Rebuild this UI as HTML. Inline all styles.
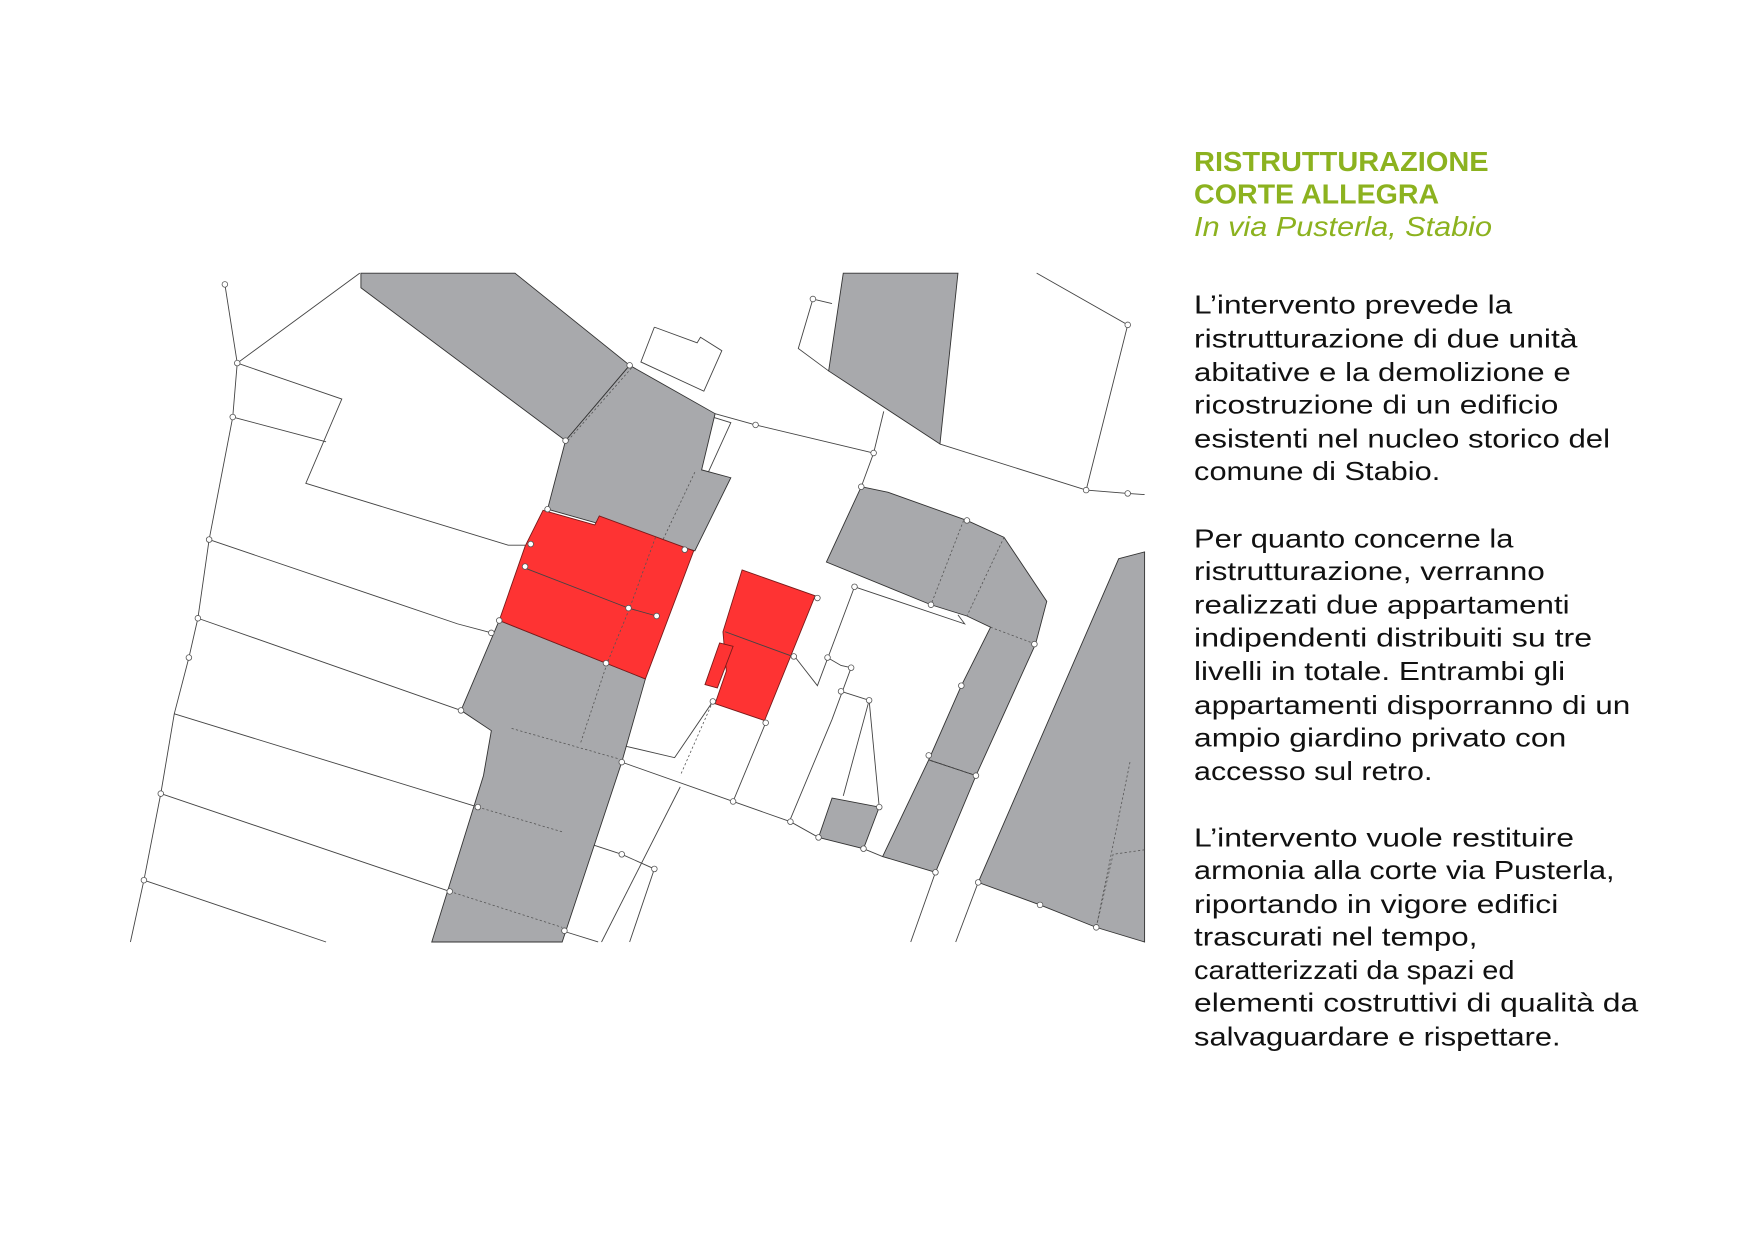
<!DOCTYPE html>
<html><head><meta charset="utf-8"><style>
html,body{margin:0;padding:0;background:#fff;}
svg{display:block;}
.t{font-family:"Liberation Sans",sans-serif;font-size:23px;fill:#111;}
.g{font-family:"Liberation Sans",sans-serif;font-size:25px;fill:#8cb21f;font-weight:bold;}
.gi{font-family:"Liberation Sans",sans-serif;font-size:25px;fill:#8cb21f;font-style:italic;}
.b{fill:#a8a9ac;stroke:#333;stroke-width:0.8;}
.r{fill:#fe3333;stroke:#7a1a1a;stroke-width:0.8;}
.l{fill:none;stroke:#444;stroke-width:0.8;}
.d{fill:none;stroke:#555;stroke-width:0.7;stroke-dasharray:2 2;}
.n{fill:#fff;stroke:#555;stroke-width:0.7;}
</style></head><body>
<svg width="1754" height="1241" viewBox="0 0 1560 1104" preserveAspectRatio="none" xmlns="http://www.w3.org/2000/svg">
<rect width="1560" height="1104" fill="#fff"/>
<g class="l">
<polyline points="200,253 211,323 320,243"/>
<polyline points="211,323 207,371 186,480 176,550 168,585 155,635 143,706 128,783 116,838"/>
<polyline points="211,323 304,355 272,430 452,485 467,485"/>
<polyline points="207,371 290,393"/>
<polyline points="186,480 407,555 437,563"/>
<polyline points="176,550 410,632"/>
<polyline points="155,635 425,718 553,760 582,773 560,838"/>
<polyline points="143,706 400,793 502,828"/>
<polyline points="128,783 290,838"/>
<polyline points="500,828 532,838"/>
<polyline points="553,678 652,713 703,731 728,745"/>
<polyline points="553,663 600,674 634,624"/>
<polyline points="605,700 535,838"/>
<polyline points="636,368 672,378 777,403 766,433"/>
<polyline points="777,403 786,366"/>
<polyline points="836,395 966,436 1003,439 1018,440"/>
<polyline points="966,436 1003,289 922,243"/>
<polyline points="723,266 740,270"/>
<polyline points="723,266 710,310 737,330"/>
<polyline points="582,291 620,305 623,300 642,312 626,348 570,322 582,291"/>
<polyline points="624,368 650,376 630,420 620,417"/>
<polyline points="760,522 858,555 852,547"/>
<polyline points="760,522 727,610 706,583"/>
<polyline points="736,585 748,592 757,594 740,640 702,731"/>
<polyline points="748,615 773,623 750,708"/>
<polyline points="773,623 782,718"/>
<polyline points="652,713 681,643"/>
<polyline points="768,755 785,762"/>
<polyline points="832,776 810,838"/>
<polyline points="870,785 850,838"/>
</g>
<polygon class="b" points="321,243 458,243 560,325 503,392 321,256"/>
<polygon class="b" points="503,392 560,325 636,368 624,418 650,425 618,490 487,453"/>
<polygon class="b" points="444,552 574,604 553,678 500,838 384,838 430,690 437,650 410,632"/>
<polygon class="b" points="750,243 852,243 836,395 737,330"/>
<polygon class="b" points="766,433 790,438 860,463 893,478 931,535 921,573 868,690 826,676 855,610 881,558 860,548 828,538 735,500"/>
<polygon class="b" points="826,676 868,690 832,776 785,762"/>
<polygon class="b" points="740,710 782,718 768,755 728,745"/>
<polygon class="b" points="995,497 1018,491 1018,838 975,825 925,805 870,785"/>
<g class="d">
<polyline points="505,392 562,327"/>
<polyline points="618,420 585,490 560,560 540,590 516,662"/>
<polyline points="455,648 550,675"/>
<polyline points="425,718 500,740"/>
<polyline points="400,793 500,825"/>
<polyline points="857,463 828,538"/>
<polyline points="893,478 860,548"/>
<polyline points="881,558 921,573"/>
<polyline points="826,676 868,690"/>
<polyline points="1005,678 975,825"/>
<polyline points="1018,756 990,760 975,825"/>
<polyline points="634,624 605,690"/>
</g>
<polygon class="r" points="483,454 529,467 533,459 617,490 574,604 444,552 467,486"/>
<polyline class="l" points="466,505 559,541 584,548"/>
<polyline class="d" points="583,478 560,541 540,590"/>
<polygon class="r" points="660,507 725,530 680,641 636,626 646,597 643,562"/>
<polygon class="r" points="640,572 652,575 638,612 627,609"/>
<polyline class="l" points="645,562 705,584"/>
<g class="n">
<circle cx="200" cy="253" r="2.5"/><circle cx="211" cy="323" r="2.5"/><circle cx="207" cy="371" r="2.5"/>
<circle cx="186" cy="480" r="2.5"/><circle cx="176" cy="550" r="2.5"/><circle cx="168" cy="585" r="2.5"/>
<circle cx="143" cy="706" r="2.5"/><circle cx="128" cy="783" r="2.5"/>
<circle cx="560" cy="325" r="2.5"/><circle cx="503" cy="392" r="2.5"/><circle cx="487" cy="453" r="2.5"/>
<circle cx="472" cy="484" r="2.5"/><circle cx="467" cy="504" r="2.5"/><circle cx="609" cy="489" r="2.5"/>
<circle cx="559" cy="541" r="2.5"/><circle cx="584" cy="548" r="2.5"/><circle cx="444" cy="552" r="2.5"/>
<circle cx="437" cy="563" r="2.5"/><circle cx="539" cy="590" r="2.5"/><circle cx="410" cy="632" r="2.5"/>
<circle cx="672" cy="378" r="2.5"/><circle cx="777" cy="403" r="2.5"/><circle cx="766" cy="433" r="2.5"/>
<circle cx="723" cy="266" r="2.5"/><circle cx="1003" cy="289" r="2.5"/><circle cx="966" cy="436" r="2.5"/>
<circle cx="1003" cy="439" r="2.5"/><circle cx="860" cy="463" r="2.5"/><circle cx="727" cy="532" r="2.5"/>
<circle cx="760" cy="522" r="2.5"/><circle cx="828" cy="538" r="2.5"/><circle cx="920" cy="573" r="2.5"/>
<circle cx="706" cy="584" r="2.5"/><circle cx="736" cy="585" r="2.5"/><circle cx="757" cy="594" r="2.5"/>
<circle cx="748" cy="615" r="2.5"/><circle cx="773" cy="623" r="2.5"/><circle cx="855" cy="610" r="2.5"/>
<circle cx="634" cy="624" r="2.5"/><circle cx="681" cy="643" r="2.5"/><circle cx="553" cy="678" r="2.5"/>
<circle cx="826" cy="672" r="2.5"/><circle cx="868" cy="690" r="2.5"/><circle cx="652" cy="713" r="2.5"/>
<circle cx="425" cy="718" r="2.5"/><circle cx="703" cy="731" r="2.5"/><circle cx="728" cy="745" r="2.5"/>
<circle cx="782" cy="718" r="2.5"/><circle cx="768" cy="755" r="2.5"/><circle cx="553" cy="760" r="2.5"/>
<circle cx="582" cy="773" r="2.5"/><circle cx="832" cy="776" r="2.5"/><circle cx="870" cy="785" r="2.5"/>
<circle cx="400" cy="793" r="2.5"/><circle cx="925" cy="805" r="2.5"/><circle cx="502" cy="828" r="2.5"/>
<circle cx="975" cy="825" r="2.5"/>
</g>
<text class="g" x="1062" y="152" textLength="262" lengthAdjust="spacingAndGlyphs">RISTRUTTURAZIONE</text>
<text class="g" x="1062" y="181" textLength="218" lengthAdjust="spacingAndGlyphs">CORTE ALLEGRA</text>
<text class="gi" x="1062" y="210" textLength="265" lengthAdjust="spacingAndGlyphs">In via Pusterla, Stabio</text>
<g class="t">
<text x="1062" y="279" textLength="283" lengthAdjust="spacingAndGlyphs">L’intervento prevede la</text>
<text x="1062" y="309" textLength="341" lengthAdjust="spacingAndGlyphs">ristrutturazione di due unità</text>
<text x="1062" y="339" textLength="335" lengthAdjust="spacingAndGlyphs">abitative e la demolizione e</text>
<text x="1062" y="368" textLength="324" lengthAdjust="spacingAndGlyphs">ricostruzione di un edificio</text>
<text x="1062" y="398" textLength="370" lengthAdjust="spacingAndGlyphs">esistenti nel nucleo storico del</text>
<text x="1062" y="427" textLength="219" lengthAdjust="spacingAndGlyphs">comune di Stabio.</text>
<text x="1062" y="487" textLength="284" lengthAdjust="spacingAndGlyphs">Per quanto concerne la</text>
<text x="1062" y="516" textLength="312" lengthAdjust="spacingAndGlyphs">ristrutturazione, verranno</text>
<text x="1062" y="546" textLength="334" lengthAdjust="spacingAndGlyphs">realizzati due appartamenti</text>
<text x="1062" y="575" textLength="354" lengthAdjust="spacingAndGlyphs">indipendenti distribuiti su tre</text>
<text x="1062" y="605" textLength="330" lengthAdjust="spacingAndGlyphs">livelli in totale. Entrambi gli</text>
<text x="1062" y="635" textLength="388" lengthAdjust="spacingAndGlyphs">appartamenti disporranno di un</text>
<text x="1062" y="664" textLength="331" lengthAdjust="spacingAndGlyphs">ampio giardino privato con</text>
<text x="1062" y="694" textLength="212" lengthAdjust="spacingAndGlyphs">accesso sul retro.</text>
<text x="1062" y="753" textLength="338" lengthAdjust="spacingAndGlyphs">L’intervento vuole restituire</text>
<text x="1062" y="782" textLength="374" lengthAdjust="spacingAndGlyphs">armonia alla corte via Pusterla,</text>
<text x="1062" y="812" textLength="324" lengthAdjust="spacingAndGlyphs">riportando in vigore edifici</text>
<text x="1062" y="841" textLength="252" lengthAdjust="spacingAndGlyphs">trascurati nel tempo,</text>
<text x="1062" y="871" textLength="285" lengthAdjust="spacingAndGlyphs">caratterizzati da spazi ed</text>
<text x="1062" y="900" textLength="395" lengthAdjust="spacingAndGlyphs">elementi costruttivi di qualità da</text>
<text x="1062" y="930" textLength="326" lengthAdjust="spacingAndGlyphs">salvaguardare e rispettare.</text>
</g>
</svg>
</body></html>
